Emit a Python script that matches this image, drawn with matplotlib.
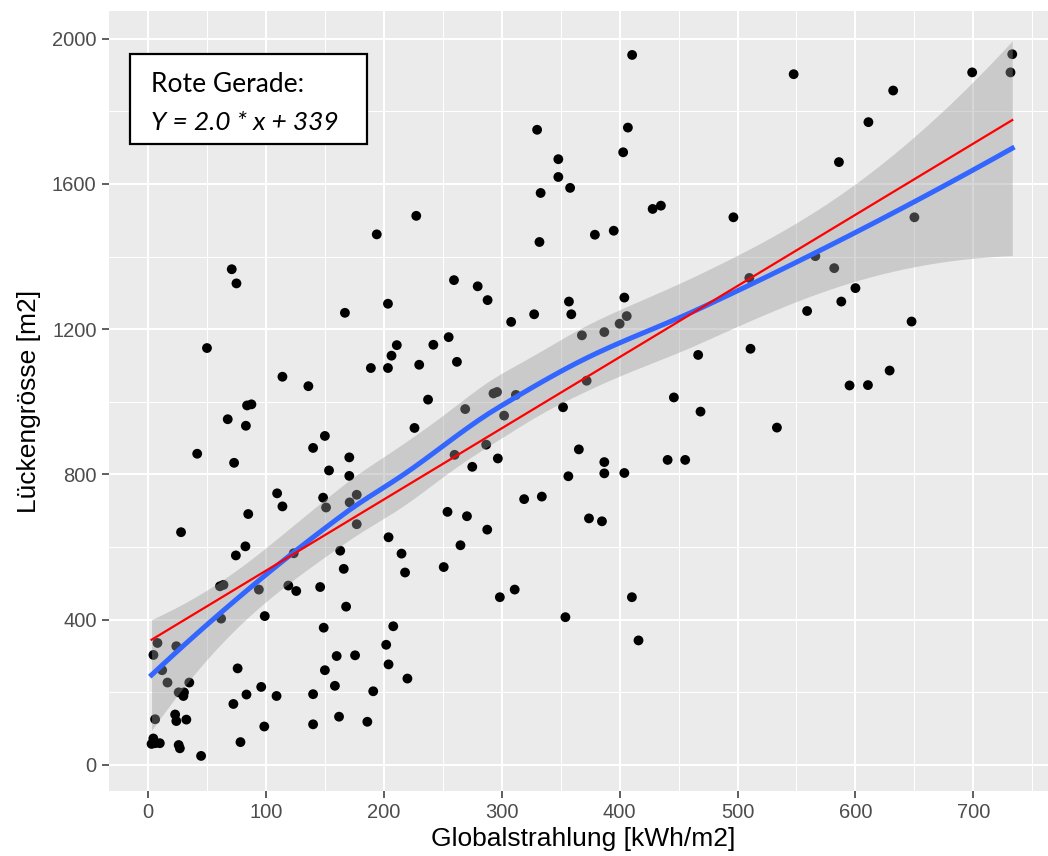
import numpy as np
import matplotlib
matplotlib.use("Agg")
import matplotlib.pyplot as plt
from matplotlib.patches import Rectangle

# Globalstrahlung [kWh/m2] vs. Lueckengroesse [m2]
radiation = [
    4.6, 8, 12, 6, 4.5, 3, 6, 10, 16.5, 24, 26, 30.5, 30, 35, 23, 24, 32.5, 26, 27, 45,
    28, 61, 64, 74.5, 82.6, 62, 76, 94, 99, 123.6, 119, 125.7, 146, 163, 166, 168, 149, 160, 175.6, 150,
    158.5, 191, 140, 162, 140, 186, 72.4, 83.5, 96, 109, 98.6, 78.4, 204, 215, 218, 208, 202, 204, 220,
    71, 75, 167, 203.5, 50, 211, 206.5, 189, 203.5, 230, 114, 136, 84, 87.7, 67.6, 83, 226, 150, 140,
    170.7, 41.7, 73, 153.5, 170.7, 109.5, 148.5, 114, 177, 171, 151, 177, 85,
    194, 227.5,
    410.6, 330, 407, 403, 348, 348, 358, 333, 428, 435, 379, 395, 332, 259.5,
    733, 731.5, 699, 547.6, 632, 611, 586, 496.5, 650, 566, 582, 510,
    279.6, 288, 308, 327.5, 357, 359, 404, 406, 400, 387, 368, 242, 255, 262, 237.5, 269, 293, 296,
    312, 302, 372, 352, 466.6, 446, 468.6, 260, 286.8, 275, 296.7, 365.4, 387, 387, 404, 440.7, 455.6,
    356.5, 319, 334, 254, 270.5, 287.7, 374, 385,
    265, 250.8, 298.4, 311, 354, 410.4, 416,
    600, 588, 559, 647.6, 511, 629, 595, 610.6, 533.4,
]
gap_size = [
    303, 336, 261, 126, 73, 58, 60, 60, 227, 327, 200, 200, 190, 227, 139, 121, 125, 55, 46, 25,
    641, 492, 496, 577, 602, 403, 266, 483, 410, 583, 494, 479, 490, 590, 540, 436, 378, 300, 302, 261,
    218, 203, 195, 133, 112, 119, 168, 194, 215, 190, 106, 63, 627, 582, 530, 382, 331, 277, 238,
    1365, 1326, 1245, 1270, 1148, 1156, 1127, 1093, 1093, 1102, 1069, 1043, 990, 993, 952, 934, 928, 906, 873,
    847, 857, 832, 811, 796, 748, 736, 712, 744, 723, 709, 663, 691,
    1461, 1512,
    1955, 1749, 1755, 1687, 1668, 1619, 1589, 1575, 1531, 1540, 1460, 1471, 1440, 1335,
    1957, 1907, 1907, 1902, 1857, 1770, 1660, 1508, 1508, 1401, 1368, 1341,
    1318, 1280, 1220, 1241, 1276, 1241, 1287, 1236, 1215, 1192, 1183, 1157, 1178, 1110, 1006, 980, 1023, 1027,
    1019, 962, 1058, 985, 1129, 1012, 973, 854, 882, 821, 844, 869, 834, 803, 804, 840, 840,
    795, 732, 739, 697, 685, 648, 679, 671,
    605, 545, 462, 483, 407, 462, 343,
    1313, 1276, 1250, 1221, 1146, 1086, 1045, 1046, 929,
]

# red reference line from the annotation
slope = 1.96
intercept = 339
label_lines = ["Rote Gerade:", "Y = 2.0 * x + 339"]


def local_rows(x, x0, q):
    # value and slope rows of a local quadratic fit (tricube weights)
    n = len(x)
    d = np.abs(x - x0)
    h = np.sort(d)[q - 1]
    w = np.clip(1 - (d / h) ** 3, 0, None) ** 3
    X = np.column_stack([np.ones(n), x - x0, (x - x0) ** 2])
    XtW = X.T * w
    B = np.linalg.solve(XtW @ X, XtW)
    return B[0], B[1]


def kd_vertices(x, fc):
    # 1-d version of the kd tree used by loess(surface = "interpolate")
    xs = np.sort(x)
    mu = 0.005 * (xs[-1] - xs[0])
    verts = [xs[0] - mu, xs[-1] + mu]

    def split(vals):
        if len(vals) <= fc:
            return
        m = (len(vals) + 1) // 2 - 1
        verts.append(vals[m])
        split(vals[:m + 1])
        split(vals[m + 1:])

    split(xs)
    return np.unique(verts)


def loess_fit(x, y, x_eval, span=0.9, cell=0.2):
    n = len(x)
    q = int(np.floor(n * span))
    v = kd_vertices(x, int(np.floor(n * span * cell)))
    vrows = [local_rows(x, vv, q) for vv in v]

    def interp_rows(pts):
        # cubic hermite blend of vertex values and slopes
        out = []
        for p in pts:
            k = np.clip(np.searchsorted(v, p) - 1, 0, len(v) - 2)
            h = v[k + 1] - v[k]
            u = (p - v[k]) / h
            (a0, s0), (a1, s1) = vrows[k], vrows[k + 1]
            out.append((1 - u) ** 2 * (1 + 2 * u) * a0 + u ** 2 * (3 - 2 * u) * a1
                       + h * (u * (1 - u) ** 2 * s0 - u ** 2 * (1 - u) * s1))
        return np.array(out)

    L = interp_rows(x)
    R = np.eye(n) - L
    RtR = R.T @ R
    delta1 = np.trace(RtR)
    delta2 = np.trace(RtR @ RtR)
    sigma = np.sqrt(np.sum((R @ y) ** 2) / delta1)
    df = delta1 ** 2 / delta2
    z = 1.959964
    t = z + (z ** 3 + z) / (4 * df)

    Le = interp_rows(x_eval)
    fit = Le @ y
    se = sigma * np.sqrt(np.sum(Le ** 2, axis=1))
    return fit, fit - t * se, fit + t * se


x = np.array(radiation, dtype=float)
y = np.array(gap_size, dtype=float)
xs = np.linspace(x.min(), x.max(), 80)
fit, lo, hi = loess_fit(x, y, xs)

plt.rcParams["font.family"] = ["Liberation Sans", "DejaVu Sans"]

fig = plt.figure(figsize=(10.48, 8.56), dpi=100)
# panel runs slightly past the right edge, as in the (cropped) reference
ax = fig.add_axes([109 / 1048, 65 / 856, 949 / 1048, 780 / 856])
ax.set_facecolor("#EBEBEB")

ax.scatter(x, y, s=50, color="black", edgecolors="none", zorder=3)
ax.fill_between(xs, lo, hi, color="#999999", alpha=0.4, linewidth=0, zorder=4)
ax.plot(xs, fit, color="#3366FF", lw=3.6, zorder=5)
ax.plot([x.min(), x.max()], [intercept + slope * x.min(), intercept + slope * x.max()],
        color="red", lw=1.6, zorder=6)

ax.set_xlim(-33.1, 771.8)
ax.set_ylim(-71.6, 2076)
ax.set_xticks(np.arange(0, 701, 100))
ax.set_yticks(np.arange(0, 2001, 400))
ax.set_xticks(np.arange(50, 751, 100), minor=True)
ax.set_yticks(np.arange(200, 2001, 400), minor=True)
ax.grid(which="major", color="white", lw=1.5)
ax.grid(which="minor", color="white", lw=0.75)
ax.set_axisbelow(True)
for s in ax.spines.values():
    s.set_visible(False)
ax.tick_params(which="major", length=5, width=1.1, color="#333333",
               labelsize=14.5, labelcolor="#4D4D4D", pad=4)
ax.tick_params(which="minor", length=0)

ax.set_xlabel("Globalstrahlung [kWh/m2]", fontsize=19, labelpad=3)
ax.set_ylabel("Lückengrösse [m2]", fontsize=19, labelpad=8)

# annotation box
ax.add_patch(Rectangle((-15.1, 1711), 200.6, 247, facecolor="white", edgecolor="black",
                       lw=1.6, zorder=7))
ax.text(2.5, 1853, label_lines[0], fontsize=19, family=["Lato", "DejaVu Sans"],
        va="baseline", ha="left", zorder=8)
ax.text(2.5, 1749, label_lines[1], fontsize=19, family=["Lato", "DejaVu Sans"],
        style="italic", va="baseline", ha="left", zorder=8)

fig.savefig("out.png", dpi=100)
